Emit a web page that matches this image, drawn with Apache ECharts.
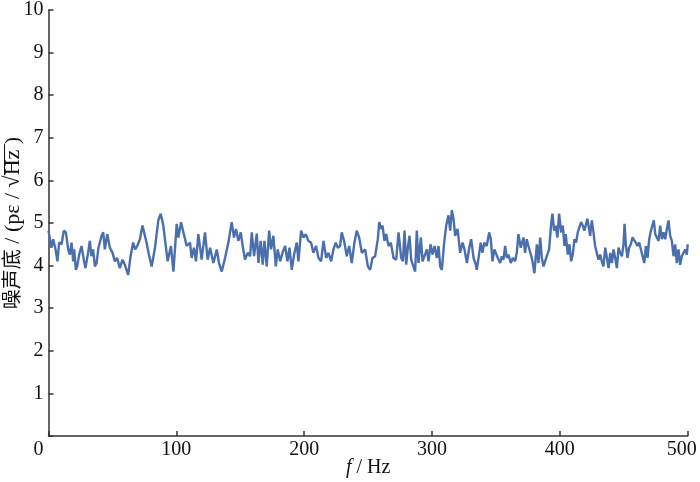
<!DOCTYPE html>
<html>
<head>
<meta charset="utf-8">
<script src="https://cdn.jsdelivr.net/npm/echarts@6/dist/echarts.min.js"></script>
<style>html,body{margin:0;padding:0;background:#fff;}#c{width:700px;height:482px;}</style>
</head>
<body>
<div id="c"></div>
<script>
const freqHz = [0,2.3,3.7,5.5,7.0,8.3,10.2,12.0,13.6,15.4,16.7,18.0,19.3,20.1,21.4,22.4,24.0,25.8,27.6,28.9,31.0,32.3,33.6,34.9,36.3,37.6,39.1,41.5,42.8,44.1,45.9,48.0,50.1,51.9,53.7,55.8,57.9,59.7,62.3,64.2,66.2,67.8,69.4,71.5,73.5,74.8,76.7,78.5,80.7,83.3,85.9,87.8,89.8,91.1,93.2,95.8,97.7,100.3,101.6,103.7,105.5,108.1,110.7,112.0,113.8,115.4,117.2,119.8,122.4,124.5,126.4,129.0,131.6,133.4,135.5,138.1,140.7,143.3,145.1,146.7,148.5,150.4,151.9,153.7,155.8,157.7,159.0,160.8,162.9,164.2,166.0,167.6,168.9,170.7,172.6,174.1,175.9,177.8,179.3,181.2,183.0,185.1,186.9,188.5,190.3,192.1,194.2,195.5,197.6,199.4,201.2,203.3,205.4,207.2,209.3,211.2,213.2,215.1,217.2,219.0,221.1,222.9,224.7,226.3,228.1,229.4,231.5,233.3,235.2,237.2,239.3,241.1,243.0,245.1,247.7,249.8,251.6,253.4,255.5,257.6,258.7,260.2,261.3,262.8,264.1,266.0,267.8,269.9,272.0,273.8,275.9,277.2,278.5,279.8,281.1,282.4,283.7,285.0,286.8,288.1,289.4,291.3,292.6,294.1,296.0,297.3,298.8,300.4,302.0,303.8,305.1,306.4,307.7,309.5,311.1,312.9,314.2,315.5,316.8,318.1,320.0,322.0,323.9,325.4,327.3,329.1,330.6,332.5,334.3,335.0,336.4,338.1,339.4,341.0,342.8,344.7,346.0,347.3,348.8,350.1,351.4,353.3,354.6,355.9,357.2,358.5,359.8,361.6,363.2,365.0,366.3,367.6,369.4,371.5,372.8,374.1,375.4,377.3,378.6,380.1,382.0,383.3,384.6,385.9,387.2,388.5,389.8,391.6,393.2,394.2,395.5,396.8,398.1,399.4,401.0,402.3,403.6,404.6,406.2,407.5,408.8,410.1,411.4,412.7,414.0,415.3,416.6,417.9,419.2,420.5,421.5,422.6,423.7,425.0,426.3,427.6,428.9,430.2,431.5,432.8,434.1,435.5,436.8,438.1,439.4,440.7,442.0,443.3,444.6,445.9,447.2,448.5,449.8,450.6,451.6,452.9,454.2,455.5,456.8,458.1,459.4,460.7,462.0,463.4,464.7,466.0,467.3,468.6,469.9,471.2,472.5,473.5,474.6,475.9,477.2,478.5,479.8,481.1,482.4,483.7,485.0,486.3,487.6,488.9,490.2,491.5,492.8,494.1,495.4,496.7,498.0,499.3,500.0];
const noiseFloor = [4.82,4.42,4.62,4.38,4.10,4.54,4.50,4.82,4.78,4.38,4.26,4.54,4.10,4.38,3.90,3.98,4.26,4.46,4.14,3.94,4.30,4.58,4.22,4.38,3.98,4.06,4.42,4.70,4.78,4.38,4.74,4.42,4.30,4.10,4.18,3.94,4.14,4.02,3.78,4.22,4.54,4.38,4.46,4.62,4.94,4.78,4.54,4.26,3.98,4.42,5.06,5.22,4.94,4.98,4.10,4.46,3.86,4.98,4.66,5.02,4.78,4.46,4.54,4.18,4.42,4.10,4.74,4.14,4.78,4.14,4.42,4.06,4.38,4.06,3.86,4.18,4.54,5.02,4.66,4.86,4.58,4.78,4.46,4.14,4.30,4.22,4.78,4.22,4.75,4.06,4.58,4.02,4.58,3.98,4.82,4.38,4.70,3.98,4.38,4.10,4.30,4.46,4.10,4.42,3.90,4.26,4.54,4.10,4.82,4.66,4.74,4.58,4.54,4.30,4.46,4.18,4.10,4.58,4.18,4.30,4.10,4.38,4.54,4.42,4.46,4.78,4.54,4.22,4.46,4.06,4.54,4.82,4.66,4.30,4.38,3.98,3.90,4.18,4.22,4.62,5.02,4.86,4.94,4.58,4.74,4.46,4.54,4.18,4.14,4.78,4.18,4.10,4.82,4.02,4.42,4.70,4.14,4.02,3.86,4.82,4.06,4.66,4.10,4.06,4.38,4.10,4.50,4.26,4.46,4.18,4.46,3.98,3.90,4.54,4.94,5.18,4.82,5.30,5.10,4.70,4.86,4.30,4.54,4.38,4.06,4.42,4.62,4.18,4.02,3.90,4.18,4.54,4.30,4.54,4.46,4.78,4.62,4.10,4.38,4.42,4.18,4.06,4.22,4.14,4.46,4.18,4.26,4.06,4.18,4.10,4.30,4.74,4.42,4.66,4.30,4.62,4.46,4.26,4.10,3.82,4.50,4.06,4.66,4.18,3.98,3.94,4.22,4.38,4.98,5.22,4.82,4.94,4.66,5.22,4.78,4.94,4.46,4.74,4.26,4.50,4.10,4.26,4.62,4.54,4.78,4.82,5.02,4.94,4.82,4.80,5.10,5.14,4.70,5.06,4.78,4.46,4.50,4.14,4.26,4.10,3.98,4.42,4.18,3.94,4.30,4.06,4.38,4.18,3.94,4.42,4.30,4.22,4.50,4.98,4.50,4.18,4.42,4.50,4.66,4.62,4.54,4.46,4.54,4.38,4.42,4.06,4.46,4.18,4.62,4.82,4.78,5.06,4.74,4.70,4.58,4.94,4.62,4.78,4.62,4.86,5.06,4.70,4.58,4.22,4.50,4.06,4.38,4.02,4.22,4.18,4.38,4.26,4.50];
const xTicks = [0,100,200,300,400,500];
const yTicks = [0,1,2,3,4,5,6,7,8,9,10];

const seriesData = freqHz.map((f, i) => [f, noiseFloor[i]]);
const serif = '"Liberation Serif","Noto Sans CJK SC",serif';
const axisColor = '#333';
const txt = '#111';
const fs = 20;

// overline image for the square-root bar
const bar = document.createElement('canvas');
bar.width = 20; bar.height = 40;
(function(){ const g = bar.getContext('2d'); g.fillStyle = txt; g.fillRect(0, 3, 20, 2); })();

const chart = echarts.init(document.getElementById('c'), null, {renderer: 'canvas'});
chart.setOption({
  animation: false,
  backgroundColor: '#fff',
  grid: {left: 48.5, right: 12.3, top: 10, bottom: 46, containLabel: false, outerBoundsMode: 'none'},
  xAxis: {
    type: 'value',
    min: xTicks[0], max: xTicks[xTicks.length - 1], interval: 100,
    name: '{i|f} / Hz',
    nameLocation: 'middle',
    nameGap: 22,
    nameMoveOverlap: false,
    nameTextStyle: {fontFamily: serif, fontSize: fs, color: txt,
      rich: {i: {fontFamily: serif, fontSize: fs, fontStyle: 'italic', color: txt}}},
    axisLine: {show: true, lineStyle: {color: axisColor, width: 1.5}},
    axisTick: {show: true, inside: true, length: 5, lineStyle: {color: axisColor, width: 1.5}},
    axisLabel: {fontFamily: serif, fontSize: fs, color: txt, margin: 4,
      formatter: v => v === 0 ? '{z|0}' : (v === 500 ? '{m|500}' : String(v)),
      rich: {
        z: {fontFamily: serif, fontSize: fs, color: txt, padding: [0, 20, 0, 0]},
        m: {fontFamily: serif, fontSize: fs, color: txt, padding: [0, 12, 0, 0]}
      }},
    splitLine: {show: false}
  },
  yAxis: {
    type: 'value',
    min: yTicks[0], max: yTicks[yTicks.length - 1], interval: 1,
    name: '{c|噪声底}{l| / (pε / √}{o|Hz }{l|)}',
    nameLocation: 'middle',
    nameGap: 24,
    nameMoveOverlap: false,
    nameRotate: 90,
    nameTextStyle: {fontFamily: serif, fontSize: fs, color: txt,
      rich: {
        c: {fontFamily: serif, fontSize: 20, color: txt},
        l: {fontFamily: serif, fontSize: 22, color: txt},
        o: {fontFamily: serif, fontSize: 22, color: txt, backgroundColor: {image: bar}}
      }},
    axisLine: {show: true, lineStyle: {color: axisColor, width: 1.5}},
    axisTick: {show: true, inside: true, length: 5, lineStyle: {color: axisColor, width: 1.5}},
    axisLabel: {fontFamily: serif, fontSize: fs, color: txt, margin: 5,
      formatter: v => v === 0 ? '' : String(v)},
    splitLine: {show: false}
  },
  series: [{
    type: 'line',
    data: seriesData,
    showSymbol: false,
    smooth: false,
    lineStyle: {color: '#4a6fad', width: 2.4},
    clip: true
  }]
});
</script>
</body>
</html>
